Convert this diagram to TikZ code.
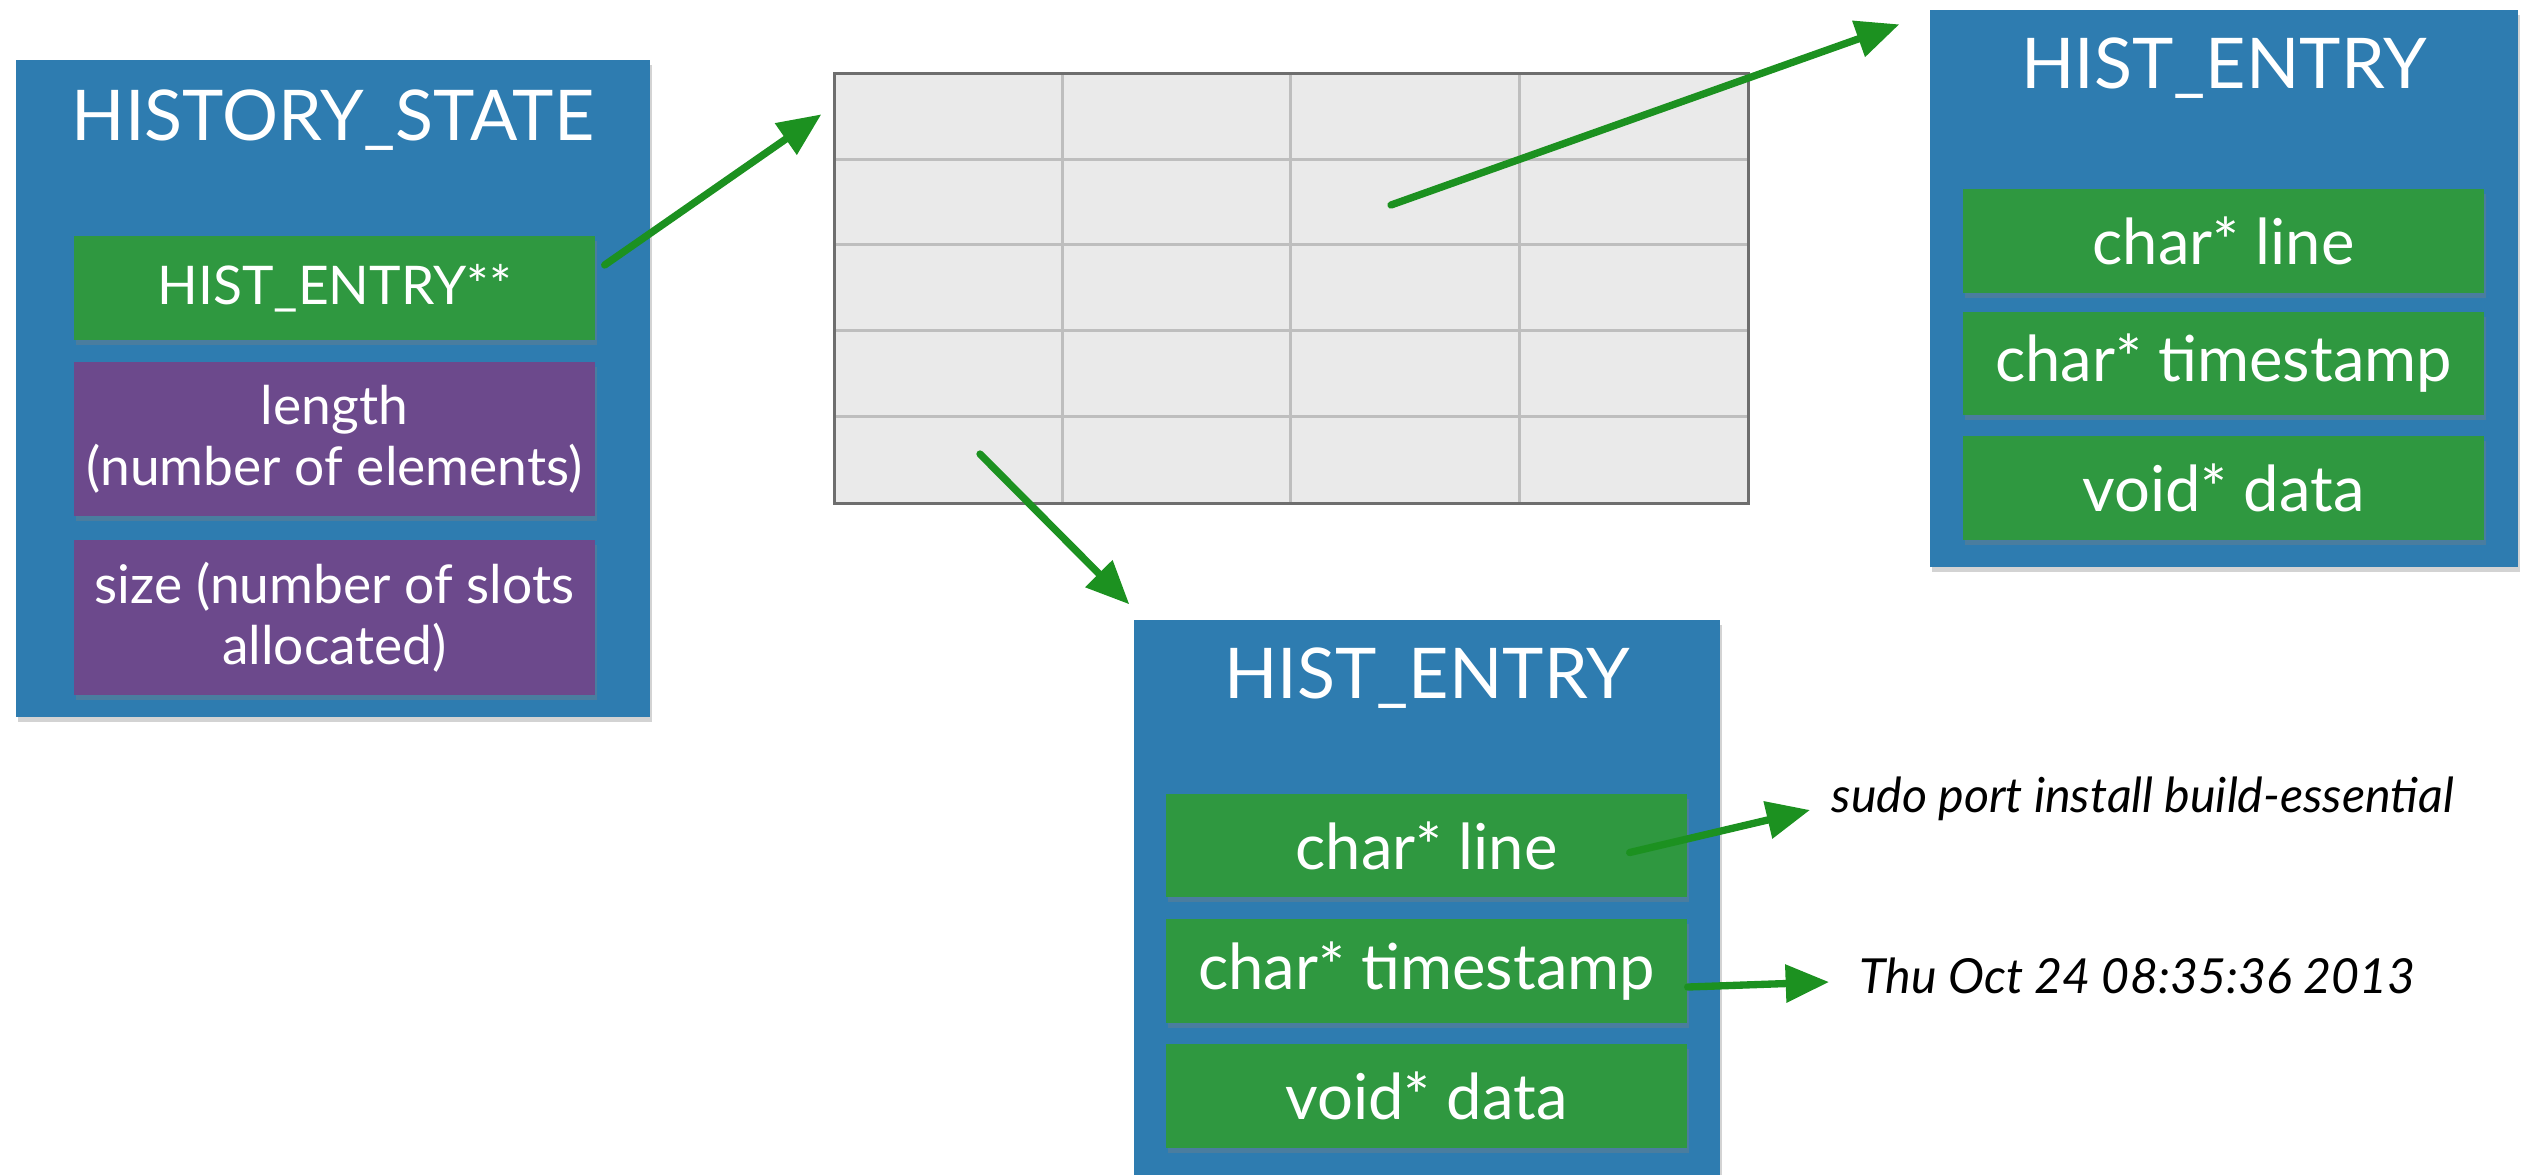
\documentclass[tikz,border=0pt]{standalone}
\usepackage{fontspec}
\setmainfont{Lato}
\usetikzlibrary{arrows.meta,calc,fit,shadows}
\definecolor{bblue}{RGB}{46,124,176}
\definecolor{bgreen}{RGB}{47,152,64}
\definecolor{bpurple}{RGB}{108,73,140}
\definecolor{agreen}{RGB}{28,145,32}
\definecolor{tfill}{RGB}{234,234,234}
\definecolor{tgrid}{RGB}{190,190,190}
\definecolor{tborder}{RGB}{110,110,110}
\begin{document}
\begin{tikzpicture}[x=0.3pt,y=-0.3pt,
  sz/.style 2 args={minimum width={#1*0.3pt}, minimum height={#2*0.3pt}},
  box/.style={rectangle, inner sep=0pt, draw=none,
    drop shadow={shadow xshift=0.6pt, shadow yshift=-1.5pt, opacity=0.35}},
  outerbox/.style={box, fill=bblue},
  fieldg/.style={box, fill=bgreen, text=white, align=center,
    font=\fontsize{16}{18.3}\selectfont},
  fieldp/.style={box, fill=bpurple, text=white, align=center,
    font=\fontsize{16}{18.3}\selectfont},
  fieldbig/.style={fieldg, font=\fontsize{19}{22}\selectfont},
  titletext/.style={text=white, anchor=base, inner sep=0pt,
    font=\fontsize{21}{25}\selectfont},
  note/.style={anchor=base west, inner sep=0pt,
    font=\itshape\fontsize{14.5}{17}\selectfont},
  arr/.style={draw=agreen, line width=2.2pt, line cap=round,
    -{Triangle[length=13pt,width=11pt]}}
]
\useasboundingbox (0,0) rectangle (2537,1174);

% HISTORY_STATE
\node[outerbox, sz={634}{657}] (hs) at (333,388.5) {};
\node[titletext] (hstitle) at (333,140) {HISTORY\_STATE};
\node[fieldg, sz={521}{104}] (hsptr) at (334.5,288) {HIST\_ENTRY**};
\node[fieldp, sz={521}{154}] (hslen) at (334.5,439) {length\\(number of elements)};
\node[fieldp, sz={521}{155}] (hssize) at (334.5,617.5) {size (number of slots\\allocated)};

% table
\node[inner sep=0pt, fill=tfill, fit={(835,74)(1748,503)}] (tbl) {};
\foreach \i in {1,2,3}
  \draw[tgrid, line width=0.9pt] ($(tbl.north west)+(228.25*\i,0)$) -- ($(tbl.south west)+(228.25*\i,0)$);
\foreach \j in {1,2,3,4}
  \draw[tgrid, line width=0.9pt] ($(tbl.north west)+(0,85.8*\j)$) -- ($(tbl.north east)+(0,85.8*\j)$);
\draw[tborder, line width=0.9pt] (tbl.north west) rectangle (tbl.south east);
\coordinate (c23) at (1391,205);
\coordinate (c51) at (980,454);

% right HIST_ENTRY
\node[outerbox, sz={588}{557}] (re) at (2224,288.5) {};
\node[titletext] (retitle) at (2224,88) {HIST\_ENTRY};
\node[fieldbig, sz={521}{104}] (re1) at (2223.5,241) {char* line};
\node[fieldbig, sz={521}{103}] (re2) at (2223.5,363.5) {char* timestamp};
\node[fieldbig, sz={521}{104}] (re3) at (2223.5,488) {void* data};

% bottom HIST_ENTRY
\node[outerbox, sz={586}{570}] (be) at (1427,905) {};
\node[titletext] (betitle) at (1427,698) {HIST\_ENTRY};
\node[fieldbig, sz={521}{103}] (be1) at (1426.5,845.5) {char* line};
\node[fieldbig, sz={521}{104}] (be2) at (1426.5,971) {char* timestamp};
\node[fieldbig, sz={521}{104}] (be3) at (1426.5,1096) {void* data};

% notes
\node[note] (sudo) at (1831,812) {sudo port install build-essential};
\node[note] (thu) at (1859,993) {Thu Oct 24 08:35:36 2013};

% arrows
\draw[arr] ($(hsptr.east)+(9,-23)$) -- ($(tbl.north west)+(-13,41)$);
\draw[arr] (c23) -- ($(re.north west)+(-30,15)$);
\draw[arr] (c51) -- ($(be.north west)+(-4,-15)$);
\draw[arr] ($(be1.east)+(-58,7)$) -- ($(sudo.base west)+(-21,-2)$);
\draw[arr] ($(be2.east)+(0,16)$) -- ($(thu.base west)+(-30,-11)$);
\end{tikzpicture}
\end{document}
